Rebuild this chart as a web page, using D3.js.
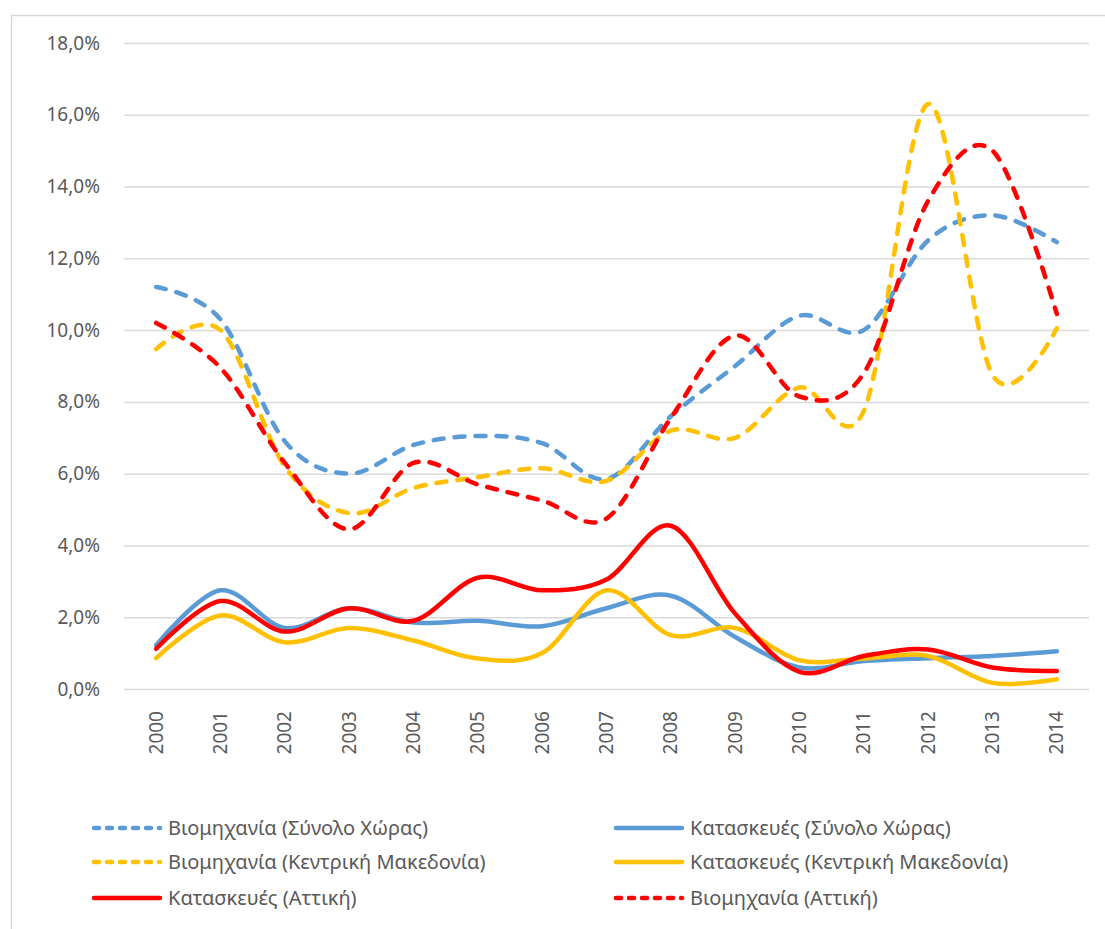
<!DOCTYPE html>
<html>
<head>
<meta charset="utf-8">
<script src="https://cdn.jsdelivr.net/npm/d3@7"></script>
<style>
  body { margin: 0; background: #fff; }
  text { font-family: "Noto Sans", "Open Sans", sans-serif; fill: #595959; }
</style>
</head>
<body>
<script>
var years = ["2000","2001","2002","2003","2004","2005","2006","2007","2008","2009","2010","2011","2012","2013","2014"];
var yTicks = [0, 2, 4, 6, 8, 10, 12, 14, 16, 18];

var indTotal  = [11.2, 10.3, 6.9, 6.0, 6.8, 7.05, 6.85, 5.85, 7.6, 9.0, 10.4, 10.0, 12.5, 13.2, 12.45];
var constrTotal = [1.22, 2.75, 1.7, 2.25, 1.85, 1.9, 1.75, 2.25, 2.6, 1.45, 0.6, 0.78, 0.86, 0.92, 1.05];
var indMaced  = [9.47, 10.0, 6.2, 4.9, 5.6, 5.9, 6.15, 5.8, 7.2, 7.0, 8.4, 7.75, 16.3, 8.75, 10.05];
var constrMaced = [0.86, 2.05, 1.3, 1.7, 1.35, 0.85, 1.0, 2.75, 1.5, 1.7, 0.8, 0.85, 0.92, 0.17, 0.27];
var constrAttica = [1.12, 2.45, 1.6, 2.25, 1.9, 3.1, 2.75, 3.05, 4.55, 2.1, 0.48, 0.92, 1.1, 0.6, 0.5];
var indAttica = [10.2, 8.95, 6.3, 4.45, 6.3, 5.7, 5.25, 4.75, 7.55, 9.85, 8.15, 8.8, 13.6, 15.0, 10.45];

var seriesNames = [
  "Βιομηχανία (Σύνολο Χώρας)",
  "Κατασκευές (Σύνολο Χώρας)",
  "Βιομηχανία (Κεντρική Μακεδονία)",
  "Κατασκευές (Κεντρική Μακεδονία)",
  "Κατασκευές (Αττική)",
  "Βιομηχανία (Αττική)"
];
var seriesValues = [indTotal, constrTotal, indMaced, constrMaced, constrAttica, indAttica];
var seriesColors = ["#5b9bd5", "#5b9bd5", "#ffc000", "#ffc000", "#ff0000", "#ff0000"];
var seriesDashed = [true, false, true, false, false, true];

var W = 1105, H = 929;
var margin = {top: 43, left: 124, right: 16, bottom: 240};
var width = W - margin.left - margin.right,
    height = H - margin.top - margin.bottom;

var svg = d3.select("body").append("svg")
    .attr("width", W)
    .attr("height", H);

// outer border
svg.append("rect")
    .attr("x", 11.5).attr("y", 15.5)
    .attr("width", W + 20).attr("height", H + 20)
    .attr("fill", "none")
    .attr("stroke", "#d9d9d9")
    .attr("stroke-width", 1.5);

var g = svg.append("g")
    .attr("transform", "translate(" + margin.left + "," + margin.top + ")");

var x = d3.scaleBand()
    .domain(years)
    .range([0, width]);

var y = d3.scaleLinear()
    .domain([0, 18])
    .range([height, 0]);

// gridlines + y labels
var yAxis = d3.axisLeft(y)
    .tickValues(yTicks)
    .tickSize(-width)
    .tickPadding(24)
    .tickFormat(d => d3.format(".1f")(d).replace(".", ",") + "%");

g.append("g")
    .attr("class", "axis axis--y")
    .call(yAxis)
    .call(a => a.select(".domain").remove())
    .call(a => a.selectAll(".tick line").attr("stroke", "#d9d9d9").attr("stroke-width", 1.5))
    .call(a => a.selectAll(".tick text").style("font-size", "19px").attr("fill", "#595959"));

// x labels rotated
var xAxis = d3.axisBottom(x).tickSize(0).tickPadding(0);
g.append("g")
    .attr("class", "axis axis--x")
    .attr("transform", "translate(0," + height + ")")
    .call(xAxis)
    .call(a => a.select(".domain").remove())
    .call(a => a.selectAll(".tick text")
        .attr("transform", "rotate(-90)")
        .attr("x", -22).attr("y", 0).attr("dy", "0.35em")
        .style("text-anchor", "end")
        .style("font-size", "19px")
        .attr("fill", "#595959"));

var line = d3.line()
    .x((d, i) => x(years[i]) + x.bandwidth() / 2)
    .y(d => y(d))
    .curve(d3.curveCatmullRom.alpha(0));

seriesValues.forEach(function (vals, k) {
    g.append("path")
        .datum(vals)
        .attr("fill", "none")
        .attr("stroke", seriesColors[k])
        .attr("stroke-width", 4.5)
        .attr("stroke-linecap", "round")
        .attr("stroke-linejoin", "round")
        .attr("stroke-dasharray", seriesDashed[k] ? "10,11" : null)
        .attr("d", line);
});

// legend
var legendX = [92, 614], legendRows = [828, 862, 898];
var legend = svg.append("g").attr("class", "legend");
seriesNames.forEach(function (name, k) {
    var col = k % 2, row = Math.floor(k / 2);
    var lg = legend.append("g")
        .attr("transform", "translate(" + legendX[col] + "," + legendRows[row] + ")");
    lg.append("line")
        .attr("x1", 2).attr("x2", 68)
        .attr("y1", 0).attr("y2", 0)
        .attr("stroke", seriesColors[k])
        .attr("stroke-width", 4.5)
        .attr("stroke-linecap", "round")
        .attr("stroke-dasharray", seriesDashed[k] ? "5,8" : null);
    lg.append("text")
        .attr("x", 76)
        .attr("y", 0)
        .attr("dy", "0.35em")
        .style("font-size", "20px")
        .text(name);
});
</script>
</body>
</html>
